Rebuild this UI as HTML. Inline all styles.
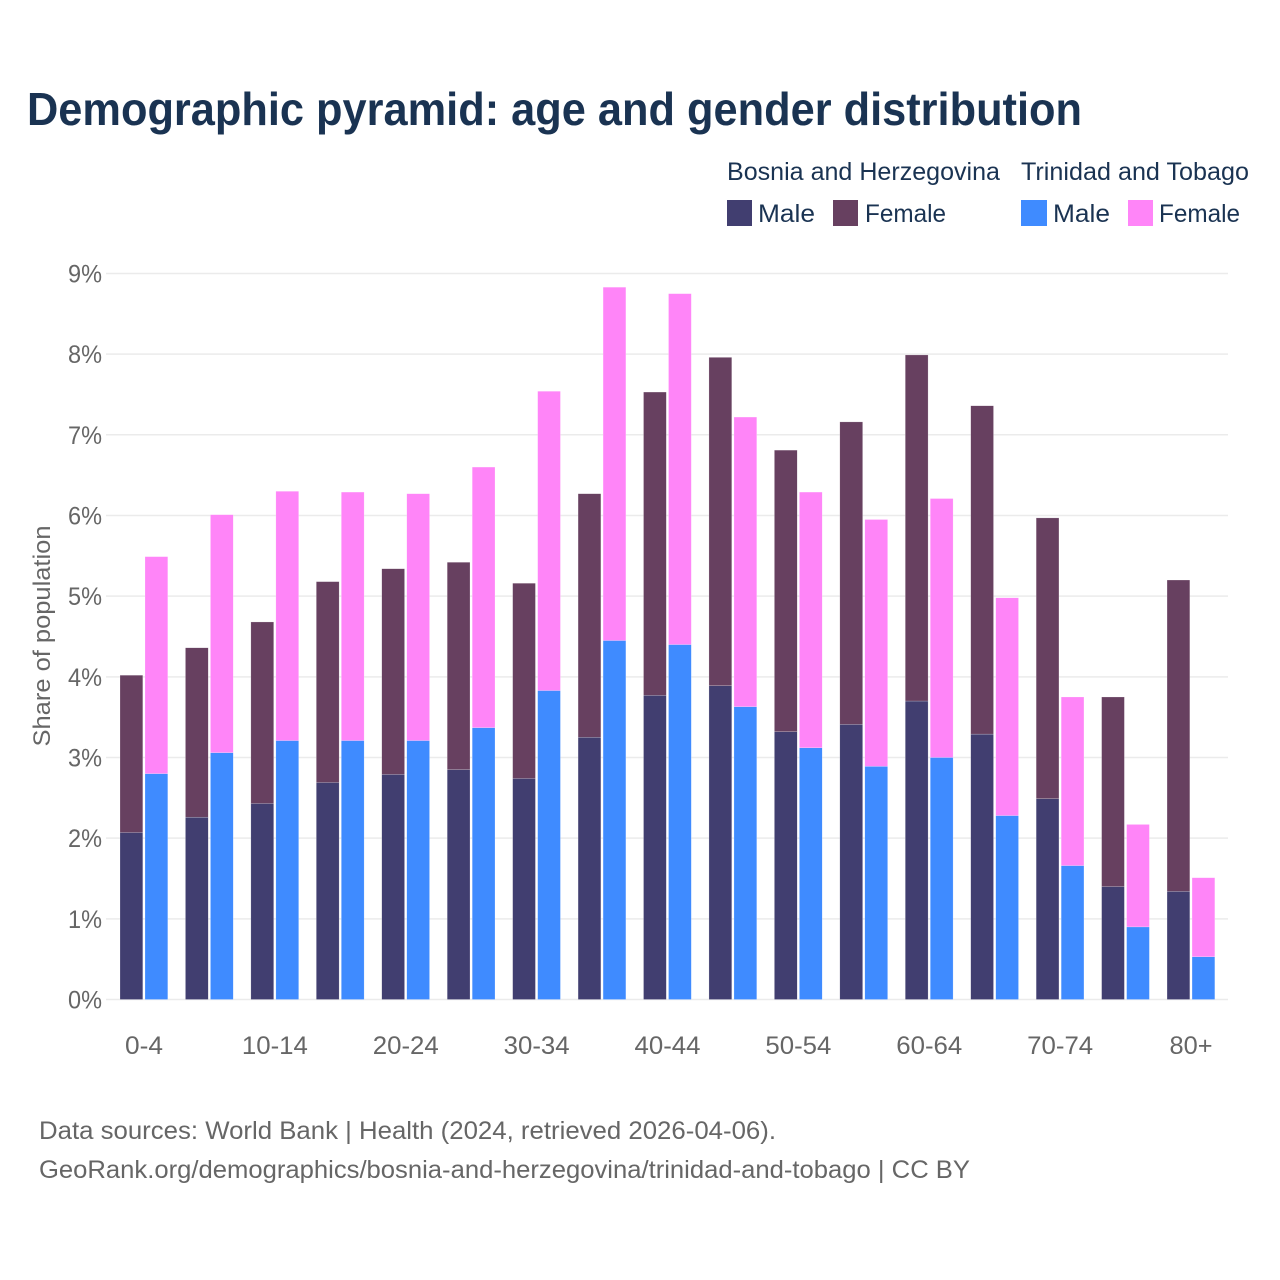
<!DOCTYPE html>
<html lang="en">
<head>
<meta charset="utf-8">
<title>Demographic pyramid</title>
<style>
html,body{margin:0;padding:0;background:#fff;width:1280px;height:1280px;overflow:hidden}
svg{display:block}
text{font-family:"Liberation Sans",sans-serif}
</style>
</head>
<body>
<svg id="chart" width="1280" height="1280" viewBox="0 0 1280 1280" xmlns="http://www.w3.org/2000/svg">
<rect width="1280" height="1280" fill="#fff"/>
<text x="27" y="125" font-size="46" font-weight="700" fill="#1a3352" textLength="1055" lengthAdjust="spacingAndGlyphs">Demographic pyramid: age and gender distribution</text>

<g font-size="25" fill="#1a3352">
<text x="727" y="180" textLength="273" lengthAdjust="spacingAndGlyphs">Bosnia and Herzegovina</text>
<text x="1021" y="180" textLength="228" lengthAdjust="spacingAndGlyphs">Trinidad and Tobago</text>
<rect x="727" y="200" width="25" height="26" fill="#413e70"/>
<text x="758" y="222" textLength="57" lengthAdjust="spacingAndGlyphs">Male</text>
<rect x="833" y="200" width="25" height="26" fill="#674060"/>
<text x="865" y="222" textLength="81" lengthAdjust="spacingAndGlyphs">Female</text>
<rect x="1021" y="200" width="26" height="26" fill="#3f8bff"/>
<text x="1053" y="222" textLength="57" lengthAdjust="spacingAndGlyphs">Male</text>
<rect x="1128" y="200" width="25" height="26" fill="#ff85f8"/>
<text x="1159" y="222" textLength="81" lengthAdjust="spacingAndGlyphs">Female</text>
</g>

<g id="grid"></g>
<g id="yticks"></g>
<g id="bars"></g>
<g id="xticks"></g>

<text transform="translate(50,636) rotate(-90)" text-anchor="middle" font-size="24" fill="#666" textLength="221" lengthAdjust="spacingAndGlyphs">Share of population</text>

<text x="39" y="1139" font-size="25" fill="#666" textLength="737" lengthAdjust="spacingAndGlyphs">Data sources: World Bank | Health (2024, retrieved 2026-04-06).</text>
<text x="39" y="1178" font-size="25" fill="#666" textLength="931" lengthAdjust="spacingAndGlyphs">GeoRank.org/demographics/bosnia-and-herzegovina/trinidad-and-tobago | CC BY</text>
</svg>
<script>
const ageGroups = ["0-4","5-9","10-14","15-19","20-24","25-29","30-34","35-39","40-44","45-49","50-54","55-59","60-64","65-69","70-74","75-79","80+"];
const bosniaMale = [2.07,2.26,2.43,2.69,2.79,2.85,2.74,3.25,3.77,3.89,3.32,3.41,3.70,3.29,2.49,1.40,1.34];
const bosniaFemale = [1.95,2.10,2.25,2.49,2.55,2.57,2.42,3.02,3.76,4.07,3.49,3.75,4.29,4.07,3.48,2.35,3.86];
const trinidadMale = [2.80,3.06,3.21,3.21,3.21,3.37,3.83,4.45,4.40,3.63,3.12,2.89,3.00,2.28,1.66,0.90,0.53];
const trinidadFemale = [2.69,2.95,3.09,3.08,3.06,3.23,3.71,4.38,4.35,3.59,3.17,3.06,3.21,2.70,2.09,1.27,0.98];
const yTickValues = [0,1,2,3,4,5,6,7,8,9];
const xTickLabels = ["0-4","10-14","20-24","30-34","40-44","50-54","60-64","70-74","80+"];

const NS = "http://www.w3.org/2000/svg";
function yScale(v){ return 999.5 - v * 80.67; }
function groupCenter(i){ return 144 + i * 65.44; }
function makeEl(tag, attrs){
  const el = document.createElementNS(NS, tag);
  for (const k in attrs) el.setAttribute(k, attrs[k]);
  return el;
}

const gridG = document.getElementById("grid");
const yG = document.getElementById("yticks");
yTickValues.forEach(function(t){
  const line = makeEl("line", {x1:106, x2:1228, y1:yScale(t), y2:yScale(t), stroke:"#ebebeb", "stroke-width":1.5});
  
  
  gridG.appendChild(line);
  const lab = makeEl("text", {x:102, y:yScale(t)+9, "text-anchor":"end", "font-size":25, fill:"#666", textLength:34, lengthAdjust:"spacingAndGlyphs"});
  lab.textContent = t + "%";
  
  
  yG.appendChild(lab);
});

const barsG = document.getElementById("bars");
const barW = 22.8;
function drawSeries(values, base, offset, color, name){
  values.forEach(function(v, i){
    const b = base ? base[i] : 0;
    const top = yScale(b + v);
    const bottom = yScale(b);
    const r = makeEl("rect", {x:groupCenter(i)+offset, y:top, width:barW, height:bottom-top, fill:color, stroke:"#fff", "stroke-width":0.4, "stroke-opacity":0.5});
    
    
    const tip = makeEl("title", {});
    tip.textContent = ageGroups[i] + ": " + v + "%";
    r.appendChild(tip);
    barsG.appendChild(r);
  });
}
drawSeries(bosniaMale, null, -24, "#413e70", "bar-bosnia-male");
drawSeries(bosniaFemale, bosniaMale, -24, "#674060", "bar-bosnia-female");
drawSeries(trinidadMale, null, 1, "#3f8bff", "bar-trinidad-male");
drawSeries(trinidadFemale, trinidadMale, 1, "#ff85f8", "bar-trinidad-female");

const xG = document.getElementById("xticks");
xTickLabels.forEach(function(l){
  const i = ageGroups.indexOf(l);
  const w = l.length === 3 && l !== "80+" ? 38 : (l === "80+" ? 43 : 66);
  const t = makeEl("text", {x:groupCenter(i), y:1054, "text-anchor":"middle", "font-size":25, fill:"#666", textLength:w, lengthAdjust:"spacingAndGlyphs"});
  t.textContent = l;
  
  
  xG.appendChild(t);
});
</script>
</body>
</html>
